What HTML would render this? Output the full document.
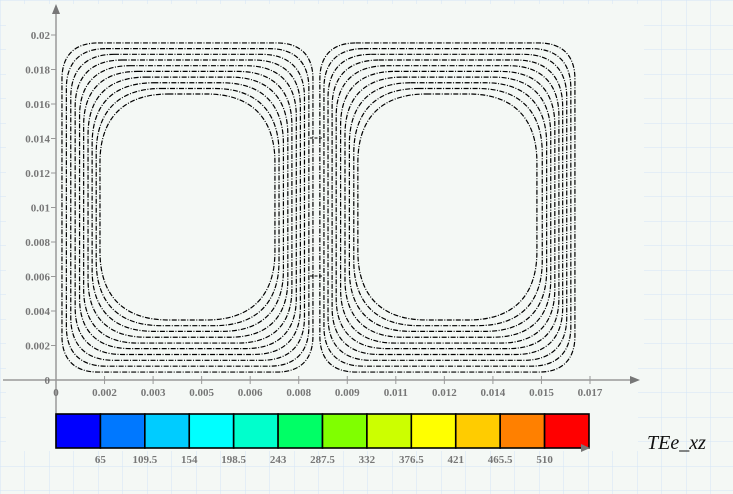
<!DOCTYPE html>
<html><head><meta charset="utf-8"><style>
body{margin:0;width:733px;height:494px;overflow:hidden;background:#f4f8f5;}
svg{display:block}
</style></head><body>
<svg id="c" width="733" height="494" xmlns="http://www.w3.org/2000/svg">
<defs>
<pattern id="grid" width="24.5" height="24.5" patternUnits="userSpaceOnUse" x="0" y="0.5">
<path d="M0 0H24.5M0 0V24.5" stroke="#d3e5f6" stroke-width="1" fill="none"/>
</pattern>
</defs>
<rect width="733" height="494" fill="url(#grid)"/>
<rect x="6" y="4" width="638" height="352" fill="#f4f8f5"/>
<rect x="6" y="356" width="632" height="95" fill="#f4f8f5"/>
<g id="marks"></g>
<text x="647" y="449" font-family="Liberation Serif, serif" font-style="italic" font-size="20" fill="#111">TEe_xz</text>
</svg>
<script>
const xTicks=["0","0.002","0.003","0.005","0.006","0.008","0.009","0.011","0.012","0.014","0.015","0.017"];
const yTicks=[0,0.002,0.004,0.006,0.008,0.01,0.012,0.014,0.016,0.018,0.02];
const leftX0=[0.00019,0.00033,0.00047,0.00061,0.00075,0.00088,0.00102,0.00115,0.00128,0.0014];
const leftX1=[0.00818,0.00805,0.00791,0.00778,0.00765,0.00751,0.00738,0.00724,0.0071,0.00697];
const rightX0=[0.0084,0.00853,0.00866,0.00879,0.00892,0.00906,0.0092,0.00934,0.00948,0.00961];
const rightX1=[0.01652,0.01639,0.01626,0.01613,0.01601,0.01588,0.01575,0.01562,0.01548,0.01531];
const yTop=[0.01954,0.01921,0.01888,0.01855,0.01822,0.01789,0.01756,0.01723,0.0169,0.01658];
const yBot=[0.00046,0.0008,0.00114,0.00148,0.00182,0.00214,0.00248,0.00282,0.00315,0.00348];
const cbLabels=["65","109.5","154","198.5","243","287.5","332","376.5","421","465.5","510"];
const cbColors=["#0000ff","#0078ff","#00ccff","#00ffff","#00ffcc","#00ff66","#80ff00","#ccff00","#ffff00","#ffcc00","#ff8000","#ff0000"];

const X0=56,X1=590,XMAX=0.017,Y0=380,YPX=17250;
const sx=v=>X0+(X1-X0)*v/XMAX;
const sy=v=>Y0-v*YPX;
const NS="http://www.w3.org/2000/svg";
const g=document.getElementById('marks');
function mk(tag,attrs,parent){const e=document.createElementNS(NS,tag);for(const k in attrs)e.setAttribute(k,attrs[k]);(parent||g).appendChild(e);return e;}
const axc="#999";
const txt="font-family:'Liberation Serif',serif;font-size:11px;font-weight:bold;fill:#777";

let ax=mk('line',{x1:X0,y1:448,x2:X0,y2:12,stroke:axc,'stroke-width':1.5});


let ay=mk('polygon',{points:`${X0-4},14 ${X0+4},14 ${X0},4`,fill:'#777'});


let xa=mk('line',{x1:3,y1:Y0,x2:632,y2:Y0,stroke:axc,'stroke-width':1.5});


let xarr=mk('polygon',{points:`630,${Y0-4} 630,${Y0+4} 640,${Y0}`,fill:'#777'});



xTicks.forEach((t,i)=>{
  const x=X0+(X1-X0)*i/(xTicks.length-1);
  if(i>0){const l=mk('line',{x1:x,y1:Y0-4,x2:x,y2:Y0+4,stroke:axc,'stroke-width':1});
  
  }
  const tx=mk('text',{x:x,y:Y0+16,'text-anchor':'middle',style:txt});tx.textContent=t;
  
  
});
yTicks.forEach(v=>{
  const y=sy(v);
  const l=mk('line',{x1:X0-5,y1:y,x2:X0,y2:y,stroke:axc,'stroke-width':1});
  
  
  const tx=mk('text',{x:X0-6,y:y+4,'text-anchor':'end',style:txt});tx.textContent=String(v);
  
  
});

function rr(x0,x1,t,b,r){
  const L=sx(x0),R=sx(x1),T=sy(t),B=sy(b);
  const k=0.35*r;
  return `M${L+r},${T}H${R-r}C${R-k},${T} ${R},${T+k} ${R},${T+r}V${B-r}C${R},${B-k} ${R-k},${B} ${R-r},${B}H${L+r}C${L+k},${B} ${L},${B-k} ${L},${B-r}V${T+r}C${L},${T+k} ${L+k},${T} ${L+r},${T}Z`;
}
for(let i=0;i<leftX0.length;i++){
  const r=36+i*3.6;
  const p1=mk('path',{d:rr(leftX0[i],leftX1[i],yTop[i],yBot[i],r),fill:'none',stroke:'#000','stroke-width':1.2,'stroke-dasharray':'5 1.5 1 1.5'});
  
  
  const p2=mk('path',{d:rr(rightX0[i],rightX1[i],yTop[i],yBot[i],r),fill:'none',stroke:'#000','stroke-width':1.2,'stroke-dasharray':'5 1.5 1 1.5'});
  
  
}
[138,276].forEach(y=>{
  const l=mk('line',{x1:310,y1:y,x2:323,y2:y,stroke:'#000','stroke-width':1.1,'stroke-dasharray':'3 1.5'});
  
  
});

const cbL=56,cbR=589,cbT=414,cbB=448;
const w=(cbR-cbL)/cbColors.length;
cbColors.forEach((c,i)=>{
  const r=mk('rect',{x:cbL+i*w,y:cbT,width:w,height:cbB-cbT,fill:c,stroke:'#000','stroke-width':1.6});
  
  
});
let cba=mk('polygon',{points:`${cbR-8},${cbB-4} ${cbR-8},${cbB+4} ${cbR+1},${cbB}`,fill:'#777'});


cbLabels.forEach((t,i)=>{
  const x=cbL+(i+1)*w;
  const tx=mk('text',{x:x,y:cbB+15,'text-anchor':'middle',style:txt});tx.textContent=t;
  
  
});
</script>
</body></html>
